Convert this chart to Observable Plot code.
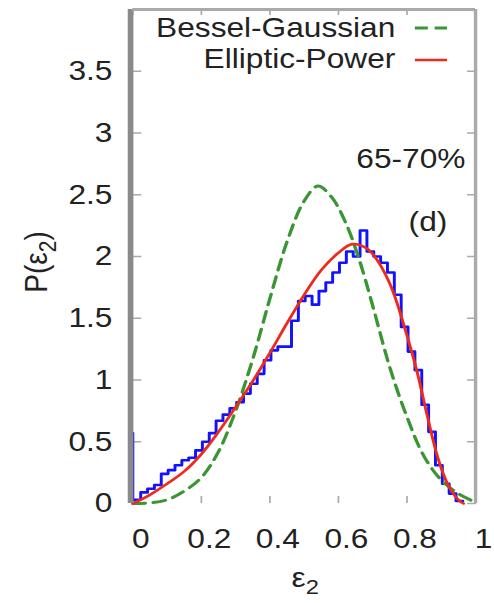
<!DOCTYPE html>
<html><head><meta charset="utf-8">
<script src="https://cdn.jsdelivr.net/npm/d3@7"></script>
<script src="https://cdn.jsdelivr.net/npm/@observablehq/plot@0.6"></script>
<style>
html,body{margin:0;padding:0;background:#fff;}
#chart svg{display:block;}
</style></head><body><div id="chart"></div>
<script>
// ---- data ----
const histEdges = [0, 0.023, 0.043, 0.063, 0.083, 0.103, 0.123, 0.143, 0.163, 0.183,
  0.203, 0.223, 0.243, 0.263, 0.283, 0.303, 0.323, 0.343, 0.363, 0.383,
  0.403, 0.423, 0.443, 0.463, 0.483, 0.503, 0.523, 0.543, 0.563, 0.583,
  0.603, 0.623, 0.643, 0.663, 0.683, 0.703, 0.723, 0.743, 0.763, 0.783,
  0.803, 0.823, 0.843, 0.863, 0.883, 0.903, 0.923, 0.943];
const histValues = [0.03, 0.09, 0.12, 0.15, 0.24, 0.27, 0.31, 0.35, 0.37, 0.43,
  0.50, 0.57, 0.67, 0.72, 0.77, 0.82, 0.89, 0.97, 1.05, 1.16,
  1.24, 1.27, 1.27, 1.48, 1.64, 1.68, 1.61, 1.72, 1.79, 1.87,
  1.95, 2.04, 2.00, 2.21, 2.04, 2.00, 1.95, 1.87, 1.69, 1.43,
  1.23, 1.08, 0.80, 0.58, 0.31, 0.16, 0.08, 0.02];
const histEnd = 0.963;
const histLead = 0.57;

const bgX = [0, 0.05, 0.10, 0.15, 0.20, 0.25, 0.30, 0.35, 0.40, 0.45, 0.50, 0.54, 0.58, 0.62, 0.66, 0.70, 0.75, 0.80, 0.85, 0.90, 0.95, 1.00];
const bgY = [0, 0.005, 0.03, 0.10, 0.21, 0.42, 0.75, 1.17, 1.66, 2.12, 2.45, 2.57, 2.48, 2.28, 1.98, 1.60, 1.10, 0.70, 0.38, 0.19, 0.08, 0.01];

const epX = [0, 0.05, 0.10, 0.15, 0.20, 0.25, 0.30, 0.35, 0.40, 0.45, 0.50, 0.55, 0.60, 0.64, 0.68, 0.70, 0.75, 0.80, 0.83, 0.86, 0.89, 0.92, 0.95, 0.965];
const epY = [0, 0.07, 0.16, 0.26, 0.40, 0.58, 0.78, 0.99, 1.22, 1.46, 1.69, 1.89, 2.03, 2.10, 2.07, 2.02, 1.78, 1.36, 1.06, 0.70, 0.37, 0.15, 0.03, 0.0];

const xTicks = [0, 0.2, 0.4, 0.6, 0.8, 1];
const xTickLabels = ["0", "0.2", "0.4", "0.6", "0.8", "1"];
const yTicks = [0, 0.5, 1, 1.5, 2, 2.5, 3, 3.5];
const yTickLabels = ["0", "0.5", "1", "1.5", "2", "2.5", "3", "3.5"];
const legendLabels = ["Bessel-Gaussian", "Elliptic-Power"];
const centralityLabel = ["65-70%"];
const panelLabel = ["(d)"];

// ---- layout ----
const STRETCH = 1.1304;          // reference text is horizontally stretched
const W = 494, H = 603;
const PW = W / STRETCH;
const FONT = "'Liberation Sans', Arial, Helvetica, sans-serif";
const C_BLUE = "#1212ff", C_RED = "#ee2a1d", C_GREEN = "#3a9632";

const stairs = [{x: 0, y: histLead}]
  .concat(histEdges.map((e, i) => ({x: e, y: histValues[i]})))
  .concat([{x: histEnd, y: histValues[histValues.length - 1]}]);
const bg = bgX.map((x, i) => ({x, y: bgY[i]}));
const ep = epX.map((x, i) => ({x, y: epY[i]}));

const plot = Plot.plot({
  width: PW, height: H,
  marginLeft: 117, marginRight: PW - 420.2, marginTop: 9, marginBottom: 100,
  x: {domain: [0, 1]},
  y: {domain: [0, 4]},
  style: {fontFamily: FONT, background: "white", color: "#222"},
  marks: [
    // tick labels
    Plot.axisX(xTicks, {anchor: "bottom", tickSize: 0, tickPadding: 25, dx: 7, fontSize: 28,
      tickFormat: d => xTickLabels[xTicks.indexOf(d)], label: null, fill: "#222"}),
    Plot.axisY(yTicks, {anchor: "left", tickSize: 0, tickPadding: 18, fontSize: 28,
      tickFormat: d => yTickLabels[yTicks.indexOf(d)], label: null, fill: "#222"}),
    // inward tick marks
    Plot.axisX(xTicks, {anchor: "bottom", tickSize: 7, dy: -7, fill: "none", stroke: "#aaa", strokeWidth: 1.5, label: null}),
    Plot.axisX(xTicks, {anchor: "top", tickSize: 5, dy: 5, fill: "none", stroke: "#aaa", strokeWidth: 1.5, label: null}),
    Plot.axisY(yTicks, {anchor: "left", tickSize: 8, dx: 8, fill: "none", stroke: "#aaa", strokeWidth: 1.5, label: null}),
    Plot.axisY(yTicks, {anchor: "right", tickSize: 8, dx: -8, fill: "none", stroke: "#aaa", strokeWidth: 1.5, label: null}),
    // data
    Plot.line(stairs, {x: "x", y: "y", curve: "step-after", stroke: C_BLUE, strokeWidth: 2.6}),
    Plot.line(bg, {x: "x", y: "y", curve: "catmull-rom", stroke: C_GREEN, strokeWidth: 3, strokeDasharray: "11,7"}),
    Plot.line(ep, {x: "x", y: "y", curve: "catmull-rom", stroke: C_RED, strokeWidth: 2.6}),
    // frame
    Plot.ruleX([0], {stroke: "#8a8a8a", strokeWidth: 5, dx: -2}),
    Plot.ruleX([1], {stroke: "#aaa", strokeWidth: 3}),
    Plot.ruleY([4], {stroke: "#aaa", strokeWidth: 3}),
    // annotations
    Plot.text([legendLabels[0]], {frameAnchor: "top-right", textAnchor: "end", lineAnchor: "middle", dx: -71, dy: 19, fontSize: 28, fill: "#222"}),
    Plot.text([legendLabels[1]], {frameAnchor: "top-right", textAnchor: "end", lineAnchor: "middle", dx: -71, dy: 50, fontSize: 28, fill: "#222"}),
    Plot.text(centralityLabel, {frameAnchor: "top-right", textAnchor: "end", lineAnchor: "middle", dx: -9, dy: 150, fontSize: 28, fill: "#222"}),
    Plot.text(panelLabel, {frameAnchor: "top-right", textAnchor: "end", lineAnchor: "middle", dx: -25, dy: 213, fontSize: 28, fill: "#222"})
  ]
});

// legend samples and axis titles with subscripts
const svg = d3.select(plot);
svg.append("line").attr("x1", 367).attr("x2", 395.5).attr("y1", 28).attr("y2", 28)
  .attr("stroke", C_GREEN).attr("stroke-width", 3).attr("stroke-dasharray", "11.5,6");
svg.append("line").attr("x1", 367).attr("x2", 395.5).attr("y1", 60).attr("y2", 60)
  .attr("stroke", C_RED).attr("stroke-width", 2.6);

const xl = svg.append("text").attr("x", 270).attr("y", 587).attr("text-anchor", "middle")
  .attr("font-size", 28).attr("font-family", FONT).attr("fill", "#222");
xl.append("tspan").text("ε");
xl.append("tspan").attr("font-size", 21).attr("dy", 7).text("2");

const yl = svg.append("text").attr("transform", "translate(41.5,262) rotate(-90)").attr("text-anchor", "middle")
  .attr("font-size", 28).attr("font-family", FONT).attr("fill", "#222");
yl.append("tspan").text("P(");
yl.append("tspan").text("ε");
yl.append("tspan").attr("font-size", 21).attr("dy", 8).text("2");
yl.append("tspan").attr("dy", -8).text(")");

plot.setAttribute("width", W);
plot.setAttribute("height", H);
plot.setAttribute("preserveAspectRatio", "none");
plot.style.width = W + "px";
plot.style.height = H + "px";
plot.style.maxWidth = "none";
document.getElementById("chart").appendChild(plot);
</script>
</body></html>
